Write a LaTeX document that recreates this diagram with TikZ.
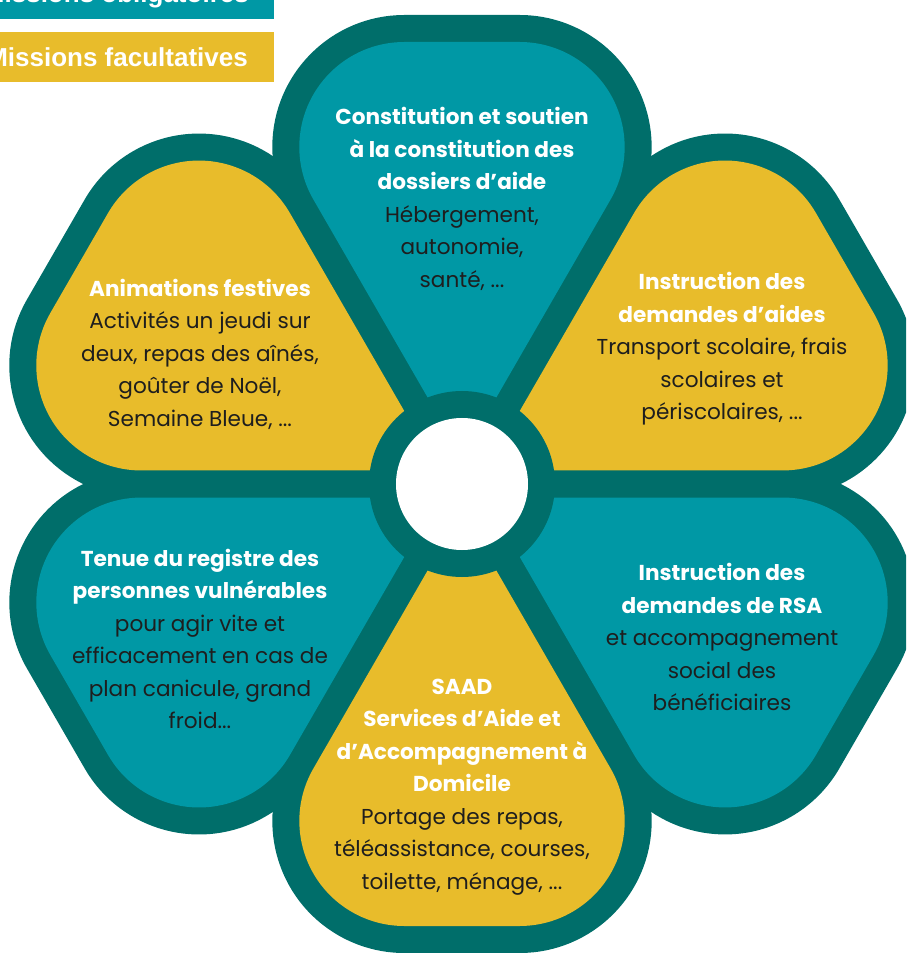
\documentclass[tikz,border=0pt]{standalone}
\usepackage{fontspec}
\setmainfont{Poppins}
\newfontfamily\legendfont{Liberation Sans}
\definecolor{petrol}{HTML}{006E6A}
\definecolor{lagoon}{HTML}{0098A5}
\definecolor{mustard}{HTML}{E8BC2B}
\definecolor{ink}{HTML}{1E1E1E}
\newcommand{\petaltitle}[1]{\textcolor{white}{\bfseries #1}}

\begin{document}
\begin{tikzpicture}[x=1pt, y=1pt,
        petaltext/.style={align=center, inner sep=0pt, text=ink,
            font=\fontsize{21.6}{32.5}\selectfont},
        legendtext/.style={anchor=east, inner sep=0pt, text=white,
            font=\legendfont\bfseries\fontsize{26}{30}\selectfont}]
        \useasboundingbox (-462,-469) rectangle (444,484);
        \clip (-462,-469) rectangle (444,484);
        \coordinate (centre) at (0,0);
        % legend, cut by the page edge
        \fill[lagoon]  (-492,465) rectangle (-188,515);
        \fill[mustard] (-492,402) rectangle (-188,452);
        \node[legendtext] (obligatoires) at (-213,488) {Missions obligatoires};
        \node[legendtext] (facultatives) at (-214,427) {Missions facultatives};
        % petals: dark rim first, then the fills
        \foreach \a in {90,30,-30,-90,-150,150}
            \draw[petrol, line width=54pt, line join=round, rotate=\a]
                (27,0) -- (284.5,-148.6) arc[start angle=-120, end angle=0, radius=105]
                -- (442,57.7) arc[start angle=0, end angle=120, radius=105] -- cycle;
        \foreach \a/\c in {90/lagoon,30/mustard,-30/lagoon,-90/mustard,-150/lagoon,150/mustard}
            \fill[\c, rotate=\a]
                (27,0) -- (284.5,-148.6) arc[start angle=-120, end angle=0, radius=105]
                -- (442,57.7) arc[start angle=0, end angle=120, radius=105] -- cycle;
        \fill[petrol] (centre) circle (93);
        \fill[white]  (centre) circle (66);
        % texts
        \node[petaltext] (dossiers) at (0,285)
            {\petaltitle{Constitution et soutien}\\ \petaltitle{à la constitution des}\\
             \petaltitle{dossiers d’aide}\\ Hébergement,\\ autonomie,\\ santé, ...};
        \node[petaltext] (aides) at (260,135)
            {\petaltitle{Instruction des}\\ \petaltitle{demandes d’aides}\\
             Transport scolaire, frais\\ scolaires et\\ périscolaires, ...};
        \node[petaltext] (rsa) at (260,-153)
            {\petaltitle{Instruction des}\\ \petaltitle{demandes de RSA}\\
             et accompagnement\\ social des\\ bénéficiaires};
        \node[petaltext] (saad) at (0,-303)
            {\petaltitle{SAAD}\\ \petaltitle{Services d’Aide et}\\
             \petaltitle{d’Accompagnement à}\\ \petaltitle{Domicile}\\
             Portage des repas,\\ téléassistance, courses,\\ toilette, ménage, ...};
        \node[petaltext] (registre) at (-262,-155)
            {\petaltitle{Tenue du registre des}\\ \petaltitle{personnes vulnérables}\\
             pour agir vite et\\ efficacement en cas de\\ plan canicule, grand\\ froid...};
        \node[petaltext] (animations) at (-262,130)
            {\petaltitle{Animations festives}\\ Activités un jeudi sur\\
             deux, repas des aînés,\\ goûter de Noël,\\ Semaine Bleue, ...};
\end{tikzpicture}
\end{document}
